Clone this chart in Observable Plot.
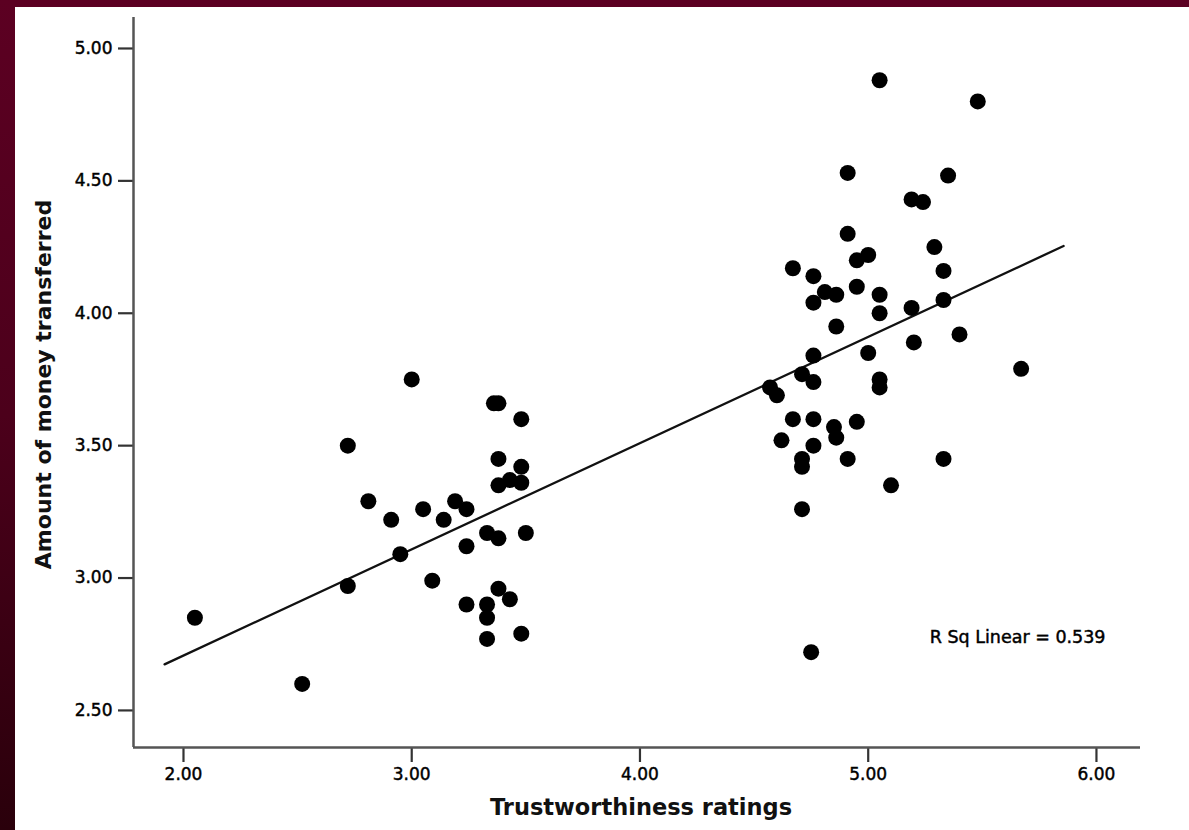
<!DOCTYPE html>
<html><head><meta charset="utf-8">
<script src="https://cdn.jsdelivr.net/npm/d3@7"></script>
<script src="https://cdn.jsdelivr.net/npm/@observablehq/plot@0.6"></script>
<style>
html,body{margin:0;padding:0;width:1189px;height:830px;overflow:hidden;}
body{background:linear-gradient(to bottom,#5c0022 0%,#4c001b 50%,#2a000b 100%);}
#chart{position:absolute;left:15px;top:7px;width:1174px;height:823px;background:#fff;}
#chart g[aria-label="x-axis tick label"] text,
#chart g[aria-label="y-axis tick label"] text,
#chart g.rsq text{stroke:#000;stroke-width:0.45px;}
</style></head><body><div id="chart"></div>
<script>
// Data
const trustworthiness = [
  2.05, 2.52, 3.00, 3.36, 3.38, 3.48, 2.72, 3.38, 3.48, 3.38, 3.43, 3.48,
  2.81, 2.91, 3.05, 3.19, 3.24, 3.14, 3.33, 3.38, 3.50, 3.24, 2.95, 2.72,
  3.09, 3.38, 3.43, 3.24, 3.33, 3.33, 3.33, 3.48,
  5.05, 5.48, 4.91, 5.35, 5.19, 5.24, 4.91, 5.29, 4.95, 5.00, 4.67, 4.76,
  5.33, 4.81, 4.86, 4.76, 4.95, 5.05, 5.05, 5.19, 5.33, 4.86, 5.40, 5.20,
  5.00, 4.76, 5.67, 4.71, 4.76, 5.05, 5.05, 4.57, 4.60, 4.67, 4.76, 4.85,
  4.86, 4.95, 4.62, 4.76, 4.71, 4.71, 4.91, 5.33, 5.10, 4.71, 4.75
];
const moneyTransferred = [
  2.85, 2.60, 3.75, 3.66, 3.66, 3.60, 3.50, 3.45, 3.42, 3.35, 3.37, 3.36,
  3.29, 3.22, 3.26, 3.29, 3.26, 3.22, 3.17, 3.15, 3.17, 3.12, 3.09, 2.97,
  2.99, 2.96, 2.92, 2.90, 2.90, 2.85, 2.77, 2.79,
  4.88, 4.80, 4.53, 4.52, 4.43, 4.42, 4.30, 4.25, 4.20, 4.22, 4.17, 4.14,
  4.16, 4.08, 4.07, 4.04, 4.10, 4.07, 4.00, 4.02, 4.05, 3.95, 3.92, 3.89,
  3.85, 3.84, 3.79, 3.77, 3.74, 3.75, 3.72, 3.72, 3.69, 3.60, 3.60, 3.57,
  3.53, 3.59, 3.52, 3.50, 3.45, 3.42, 3.45, 3.45, 3.35, 3.26, 2.72
];
// Fit line end points as drawn in the reference
const fitX = [1.917, 5.856];
const fitY = [2.674, 4.254];
const xTicks = [2, 3, 4, 5, 6];
const yTicks = [2.5, 3, 3.5, 4, 4.5, 5];
const xDomain = [1.781, 6.193];
const yDomain = [2.36, 5.117];
const xTitle = "Trustworthiness ratings";
const yTitle = "Amount of money transferred";
const rsqLabel = "R Sq Linear = 0.539";

const points = trustworthiness.map((x, i) => ({x, y: moneyTransferred[i]}));
const fit = fitX.map((x, i) => ({x, y: fitY[i]}));
const fmt = d3.format(".2f");

const plot = Plot.plot({
  width: 1174, height: 823,
  marginLeft: 118, marginRight: 49, marginTop: 10, marginBottom: 83,
  style: {fontFamily: "DejaVu Sans", background: "#fff", color: "#000", overflow: "visible"},
  x: {domain: xDomain},
  y: {domain: yDomain},
  marks: [
    Plot.axisX(xTicks, {tickFormat: fmt, tickSize: 15, tickPadding: 5, strokeWidth: 2.2, stroke: "#333", fill: "#000", fontSize: 17, label: null}),
    Plot.axisY(yTicks, {tickFormat: fmt, tickSize: 15, tickPadding: 6, strokeWidth: 2.2, stroke: "#333", fill: "#000", fontSize: 17, label: null}),
    Plot.ruleX([xDomain[0]], {stroke: "#555", strokeWidth: 2.5}),
    Plot.ruleY([yDomain[0]], {stroke: "#555", strokeWidth: 2.5}),
    Plot.line(fit, {x: "x", y: "y", stroke: "#111", strokeWidth: 2.3}),
    Plot.dot(points, {x: "x", y: "y", r: 8, fill: "#000"}),
    Plot.text([xTitle], {frameAnchor: "bottom", dx: 4, dy: 67, fontSize: 22.5, fontWeight: "bold", fill: "#111"}),
    Plot.text([yTitle], {frameAnchor: "left", dx: -90, dy: 2, rotate: -90, textAnchor: "middle", lineAnchor: "middle", fontSize: 22, fontWeight: "bold", fill: "#111"}),
    Plot.text([rsqLabel], {frameAnchor: "bottom-right", dx: -35, dy: -105, textAnchor: "end", fontSize: 17.5, fill: "#000", className: "rsq"})
  ]
});
document.getElementById("chart").appendChild(plot);
</script>
</body></html>
